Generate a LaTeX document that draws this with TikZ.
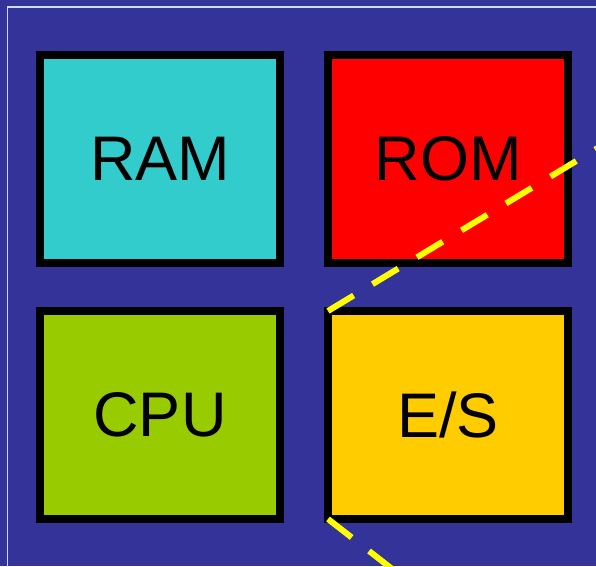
\documentclass[tikz,border=0pt]{standalone}
\usepackage{fontspec}
\setmainfont{Liberation Sans}
\definecolor{bgblue}{HTML}{333399}
\definecolor{framecol}{HTML}{CCDDFF}
\definecolor{ramcol}{HTML}{33CCCC}
\definecolor{romcol}{HTML}{FF0000}
\definecolor{cpucol}{HTML}{99CC00}
\definecolor{escol}{HTML}{FFCC00}
\definecolor{dashcol}{HTML}{FFFF00}
\begin{document}
\begin{tikzpicture}[x=1pt,y=-1pt,
  unit/.style={draw=black,line width=8pt,minimum width=240pt,minimum height=208pt,
    inner sep=0pt,outer sep=0pt,font=\fontsize{63}{63}\selectfont,text=black},
  bus/.style={draw=dashcol,line width=6pt,dash pattern=on 30pt off 22pt}]
\useasboundingbox (0,0) rectangle (596,566);
\clip (0,0) rectangle (596,566);
\fill[bgblue] (0,0) rectangle (596,566);
\draw[framecol,line width=1.2pt] (7.5,620) -- (7.5,7) -- (620,7);
\node[unit,fill=ramcol] (ram) at (160,159) {RAM};
\node[unit,fill=romcol] (rom) at (448,159) {ROM};
\node[unit,fill=cpucol] (cpu) at (160,415) {CPU};
\node[unit,fill=escol] (es) at (448,415) {E/S};
\coordinate (upend) at (630,128.5);
\coordinate (downend) at (405,579);
\draw[bus] (es.north west) -- (upend);
\draw[bus] (es.south west) -- (downend);
\end{tikzpicture}
\end{document}
